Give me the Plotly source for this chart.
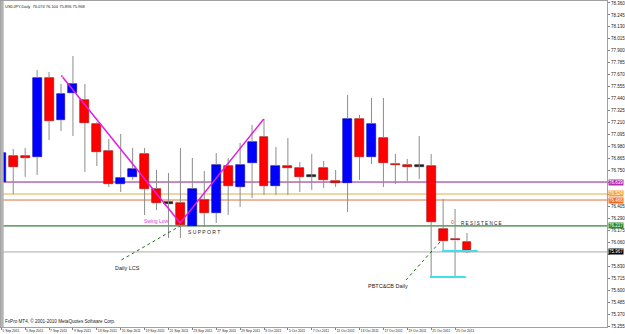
import plotly.graph_objects as go

# ---- data (USDJPY daily) ----
dates = ["1 Sep 2011", "2 Sep 2011", "5 Sep 2011", "6 Sep 2011", "7 Sep 2011", "8 Sep 2011",
         "9 Sep 2011", "12 Sep 2011", "13 Sep 2011", "14 Sep 2011", "15 Sep 2011", "16 Sep 2011",
         "19 Sep 2011", "20 Sep 2011", "21 Sep 2011", "22 Sep 2011", "23 Sep 2011", "26 Sep 2011",
         "27 Sep 2011", "28 Sep 2011", "29 Sep 2011", "30 Sep 2011", "3 Oct 2011", "4 Oct 2011",
         "5 Oct 2011", "6 Oct 2011", "7 Oct 2011", "10 Oct 2011", "11 Oct 2011", "12 Oct 2011",
         "13 Oct 2011", "14 Oct 2011", "17 Oct 2011", "18 Oct 2011", "19 Oct 2011", "20 Oct 2011",
         "21 Oct 2011", "24 Oct 2011", "25 Oct 2011", "26 Oct 2011"]
opens = [76.639, 76.889, 76.885, 76.880, 77.639, 77.235, 77.495, 77.428, 77.197, 76.937,
         76.620, 76.688, 76.909, 76.572, 76.438, 76.438, 76.217, 76.466, 76.341, 76.793,
         76.591, 76.822, 77.072, 76.601, 76.793, 76.774, 76.697, 76.774, 76.649, 76.630,
         77.245, 76.880, 77.062, 76.812, 76.803, 76.793, 76.793, 76.188, 76.092, 76.063]
highs = [77.245, 76.957, 76.966, 77.716, 77.697, 77.582, 77.851, 77.582, 77.216, 77.053,
         77.101, 76.966, 76.966, 76.755, 76.726, 76.966, 76.870, 76.745, 76.918, 76.870,
         77.014, 77.187, 77.245, 76.976, 77.062, 76.832, 76.909, 76.841, 76.755, 77.476,
         77.284, 77.447, 77.447, 76.909, 76.861, 77.082, 76.909, 76.476, 76.380, 76.149]
lows = [76.534, 76.524, 76.688, 76.707, 77.043, 77.130, 77.082, 76.736, 76.793, 76.591,
        76.543, 76.659, 76.322, 76.370, 76.101, 76.101, 76.217, 76.207, 76.245, 76.322,
        76.399, 76.486, 76.515, 76.515, 76.515, 76.543, 76.563, 76.582, 76.591, 76.351,
        76.659, 76.812, 76.591, 76.620, 76.649, 76.668, 75.726, 75.967, 75.726, 75.957]
closes = [76.918, 76.784, 76.875, 77.639, 77.226, 77.485, 77.582, 77.207, 76.928, 76.620,
          76.678, 76.764, 76.572, 76.438, 76.438, 76.226, 76.572, 76.341, 76.803, 76.601,
          76.803, 77.024, 76.601, 76.793, 76.774, 76.688, 76.697, 76.659, 76.630, 77.245,
          76.880, 77.197, 76.822, 76.803, 76.784, 76.793, 76.255, 76.072, 76.077, 75.967]

price_ticks = [78.360, 78.245, 78.130, 78.015, 77.900, 77.785, 77.670, 77.555, 77.440, 77.325,
               77.210, 77.095, 76.980, 76.865, 76.750, 76.635, 76.520, 76.405, 76.290, 76.175,
               76.060, 75.945, 75.830, 75.715, 75.600, 75.485, 75.370, 75.255]
# tick labels hidden behind the coloured level labels in the original
hidden_ticks = [76.635, 76.520, 75.945]

# horizontal levels
level_prices = [76.639, 76.524, 76.466, 76.217, 75.967]
level_colors = ["#8B1A8B", "#F2D6A2", "#E2703A", "#0B5E0B", "#A8A8A8"]
level_widths = [1, 2, 1, 1, 1]
level_label_bg = ["#B02FB0", "#F5A040", "#F06A28", "#2A8A2A", "#000000"]
level_label_fg = ["#FFFFFF", "#FFFFFF", "#FFFFFF", "#FFFFFF", "#FFFFFF"]

# drawn objects
swing_x = [5.06, 14.98, 21.98]
swing_y = [77.658, 76.245, 77.245]
cyan_upper_x = [36.9, 39.9]
cyan_upper_y = 75.976
cyan_lower_x = [35.9, 38.9]
cyan_lower_y = 75.726
lcs_x = [10.06, 14.98]
lcs_y = [75.890, 76.217]
pbtc_x = [33.89, 36.89]
pbtc_y = [75.697, 76.082]

title_text = "USDJPY,Daily  76.074 76.104 75.896 75.968"
copyright_text = "FxPro MT4, \u00a9 2001-2010 MetaQuotes Software Corp."

# ---- build ----
n = len(dates)
idx = list(range(n))
body_base = []
body_h = []
body_col = []
body_line = []
for o, c in zip(opens, closes):
    lo, hi = min(o, c), max(o, c)
    h = max(hi - lo, 0.012)
    body_base.append((lo + hi) / 2 - h / 2)
    body_h.append(h)
    if c > o:
        body_col.append("#0000FF"); body_line.append("#0000AA")
    elif c < o:
        body_col.append("#FF0000"); body_line.append("#A00000")
    else:
        body_col.append("#202020"); body_line.append("#202020")

wx, wy = [], []
for i, o, h, l, c in zip(idx, opens, highs, lows, closes):
    top, bot = max(o, c), min(o, c)
    if h > top:
        wx += [i, i, None]; wy += [h, top, None]
    if l < bot:
        wx += [i, i, None]; wy += [bot, l, None]

fig = go.Figure()
fig.add_trace(go.Scatter(x=wx, y=wy, mode="lines", line=dict(color="#8C8C8C", width=1),
                         hoverinfo="skip"))
fig.add_trace(go.Bar(x=idx, y=body_h, base=body_base, width=0.75,
                     marker=dict(color=body_col, line=dict(color=body_line, width=0.6))))

fig.add_trace(go.Scatter(x=swing_x, y=swing_y, mode="lines+markers",
                         line=dict(color="#E020E0", width=1.5),
                         marker=dict(size=[3, 0, 0], color="#E020E0")))
fig.add_trace(go.Scatter(x=cyan_upper_x, y=[cyan_upper_y] * 2, mode="lines",
                         line=dict(color="#3FE0EE", width=2)))
fig.add_trace(go.Scatter(x=cyan_lower_x, y=[cyan_lower_y] * 2, mode="lines",
                         line=dict(color="#3FE0EE", width=2)))
fig.add_trace(go.Scatter(x=lcs_x, y=lcs_y, mode="lines",
                         line=dict(color="#1E6E1E", width=1, dash="dot")))
fig.add_trace(go.Scatter(x=pbtc_x, y=pbtc_y, mode="lines",
                         line=dict(color="#1E6E1E", width=1, dash="dot")))

shapes = []
for p, col, w in zip(level_prices, level_colors, level_widths):
    shapes.append(dict(type="line", xref="paper", x0=0, x1=1, yref="y", y0=p, y1=p,
                       line=dict(color=col, width=w), layer="below"))
shapes.append(dict(type="line", xref="paper", x0=0.002, x1=0.002, yref="paper", y0=0, y1=1,
                   line=dict(color="#B4B4B4", width=3)))

annotations = []
for p, bg, fg in zip(level_prices, level_label_bg, level_label_fg):
    annotations.append(dict(xref="paper", x=1, xanchor="left", xshift=1, yref="y", y=p,
                            text=f"{p:.3f}", showarrow=False, bgcolor=bg,
                            font=dict(size=4.5, color=fg, family="Liberation Sans"),
                            borderpad=0))
txt_font = dict(size=5.5, color="#222222", family="Liberation Sans")
annotations += [
    dict(xref="paper", yref="paper", x=0.004, y=0.997, xanchor="left", yanchor="top",
         text=title_text, showarrow=False, font=dict(size=4, color="#222222", family="Liberation Sans")),
    dict(xref="paper", yref="paper", x=0.004, y=0.004, xanchor="left", yanchor="bottom",
         text=copyright_text, showarrow=False, font=dict(size=4.6, color="#222222", family="Liberation Sans")),
    dict(x=13.0, y=76.265, text="Swing Low", showarrow=False,
         font=dict(size=5, color="#E040E0", family="Liberation Sans")),
    dict(x=16.98, y=76.159, text="S U P P O R T", showarrow=False,
         font=dict(size=5, color="#222222", family="Liberation Sans")),
    dict(x=10.56, y=75.813, text="Daily LCS", showarrow=False, font=txt_font),
    dict(x=32.4, y=75.640, text="PBTC&CB Daily", showarrow=False, font=txt_font),
    dict(x=37.75, y=76.255, text="0", showarrow=False,
         font=dict(size=5, color="#E03030", family="Liberation Sans")),
    dict(x=38.3, y=76.245, xanchor="left", text="R E S I S T E N C E", showarrow=False,
         font=dict(size=4.6, color="#222222", family="Liberation Sans")),
]

tick_idx = idx[0::2]
tick_lab = dates[0::2]
ytext = ["" if v in hidden_ticks else f"{v:.3f}" for v in price_ticks]

fig.update_layout(
    width=625, height=334,
    margin=dict(l=0, r=16, t=1, b=7),
    paper_bgcolor="white", plot_bgcolor="white",
    showlegend=False, bargap=0,
    shapes=shapes, annotations=annotations,
    xaxis=dict(range=[-0.025, 50.725], showgrid=False, zeroline=False,
               tickvals=tick_idx, ticktext=tick_lab, ticks="outside", ticklen=2,
               tickangle=0, tickcolor="#808080", ticklabelposition="outside right",
               tickfont=dict(size=3.4, color="#222222", family="Liberation Sans"),
               showline=True, linecolor="#A0A0A0", linewidth=1, mirror=True),
    yaxis=dict(range=[75.2455, 78.379], side="right", showgrid=False, zeroline=False,
               tickvals=price_ticks, ticktext=ytext,
               ticks="outside", ticklen=2, tickcolor="#808080",
               tickfont=dict(size=4.5, color="#222222", family="Liberation Sans"),
               showline=True, linecolor="#A0A0A0", linewidth=1, mirror=True),
)

fig.write_html("out.html")
